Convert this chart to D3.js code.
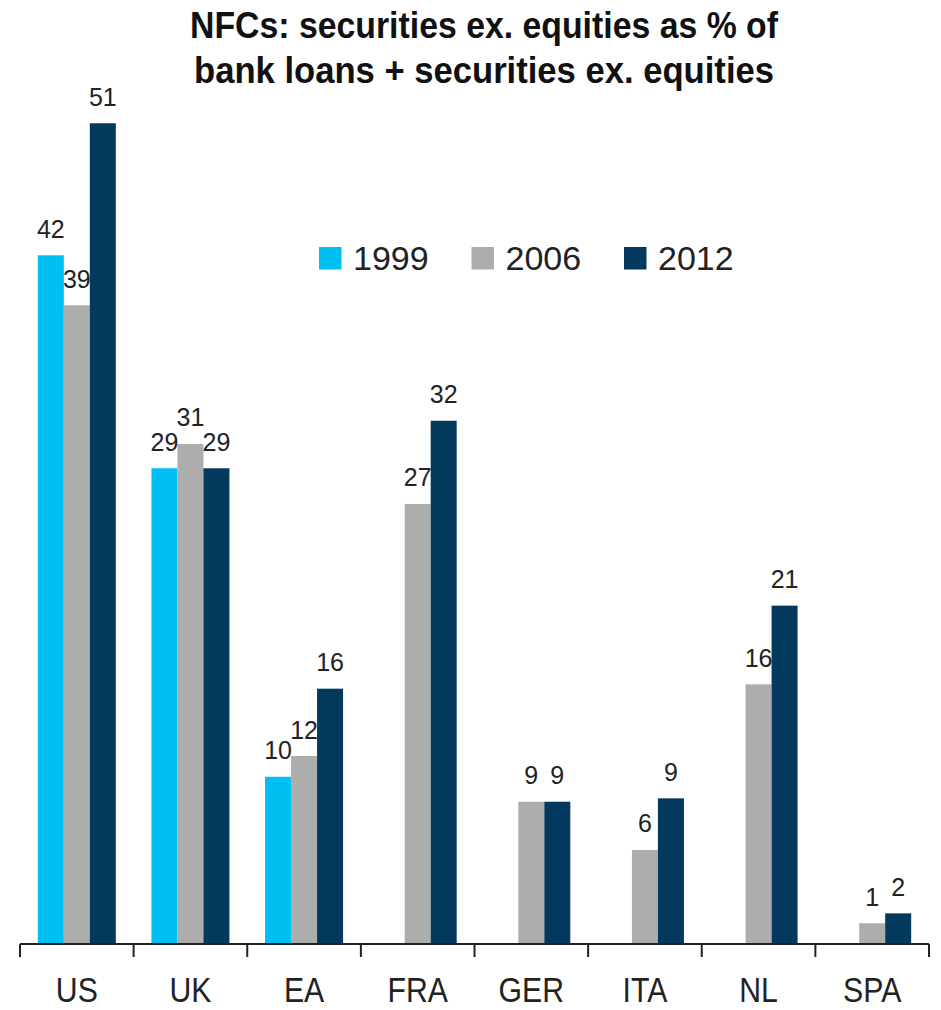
<!DOCTYPE html>
<html>
<head>
<meta charset="utf-8">
<script src="https://cdn.jsdelivr.net/npm/d3@7"></script>
<style>
  html, body { margin: 0; padding: 0; background: #fff; }
  svg { display: block; }
</style>
</head>
<body>
<svg id="chart" width="941" height="1010"></svg>
<script>
const categories = ["US", "UK", "EA", "FRA", "GER", "ITA", "NL", "SPA"];
const years = ["1999", "2006", "2012"];
const values1999 = [42.46, 29.33, 10.31, null, null, null, null, null];
const values2006 = [39.38, 30.83, 11.59, 27.13, 8.77, 5.80, 16.01, 1.28];
const values2012 = [50.60, 29.33, 15.74, 32.26, 8.77, 8.98, 20.86, 1.89];
const titleLines = ["NFCs: securities ex. equities as % of", "bank loans + securities ex. equities"];
const colors = ["#00bff3", "#adadad", "#03395c"];

const seriesValues = [values1999, values2006, values2012];
const data = categories.map((c, i) => ({
  cat: c,
  bars: years.map((y, j) => ({ year: y, value: seriesValues[j][i], color: colors[j] }))
}));

const svg = d3.select("#chart");
const font = "'Liberation Sans', Arial, sans-serif";

const x = d3.scaleBand().domain(categories).range([20, 929]).paddingInner(0).paddingOuter(0);
const xs = d3.scaleBand().domain(years).range([0, x.bandwidth()]).paddingInner(0).paddingOuter(0.685);
const y = d3.scaleLinear().domain([0, 55]).range([944, 944 - 55 * 16.22]);

// title
svg.append("g").selectAll("text").data(titleLines).join("text")
  .attr("x", 484)
  .attr("y", (d, i) => 38 + i * 45)
  .attr("text-anchor", "middle")
  .attr("font-family", font)
  .attr("font-weight", "bold")
  .attr("font-size", 36)
  .attr("fill", "#111")
  .attr("textLength", (d, i) => i === 0 ? 588 : 580)
  .attr("lengthAdjust", "spacingAndGlyphs")
  .text(d => d);

// bars
const groups = svg.append("g").selectAll("g").data(data).join("g")
  .attr("transform", d => `translate(${x(d.cat)},0)`);

groups.selectAll("rect").data(d => d.bars.filter(b => b.value != null)).join("rect")
  .attr("x", d => xs(d.year))
  .attr("width", xs.bandwidth())
  .attr("y", d => y(d.value))
  .attr("height", d => y(0) - y(d.value))
  .attr("fill", d => d.color);

groups.selectAll("text").data(d => d.bars.filter(b => b.value != null)).join("text")
  .attr("x", d => xs(d.year) + xs.bandwidth() / 2)
  .attr("y", d => y(d.value) - 17.5)
  .attr("text-anchor", "middle")
  .attr("font-family", font)
  .attr("font-size", 25)
  .attr("fill", "#222")
  .text(d => d3.format(".0f")(d.value));

// axis
const axis = svg.append("g").attr("transform", "translate(0,944)")
  .call(d3.axisBottom(x).tickSize(0).tickPadding(0));
axis.select(".domain").remove();
axis.selectAll(".tick text")
  .attr("y", 0)
  .attr("dy", 0)
  .attr("transform", "translate(0,58) scale(0.84,1)")
  .attr("font-family", font)
  .attr("font-size", 36)
  .attr("fill", "#222");

axis.append("line")
  .attr("x1", x.range()[0]).attr("x2", x.range()[1])
  .attr("y1", 0).attr("y2", 0)
  .attr("stroke", "#222").attr("stroke-width", 2);

const boundaries = categories.map(c => x(c)).concat([x(categories[categories.length - 1]) + x.bandwidth()]);
axis.selectAll("line.tk").data(boundaries).join("line")
  .attr("class", "tk")
  .attr("x1", d => d).attr("x2", d => d)
  .attr("y1", 0).attr("y2", 13)
  .attr("stroke", "#222").attr("stroke-width", 2);

// legend
const legendX = d3.scalePoint().domain(years).range([319, 624]);
const legend = svg.append("g").selectAll("g").data(years).join("g")
  .attr("transform", d => `translate(${legendX(d)},247)`);
legend.append("rect")
  .attr("width", 22.5).attr("height", 22.5)
  .attr("fill", (d, i) => colors[i]);
legend.append("text")
  .attr("x", 34).attr("y", 22.5)
  .attr("font-family", font)
  .attr("font-size", 34)
  .attr("fill", "#222")
  .text(d => d);
</script>
</body>
</html>
